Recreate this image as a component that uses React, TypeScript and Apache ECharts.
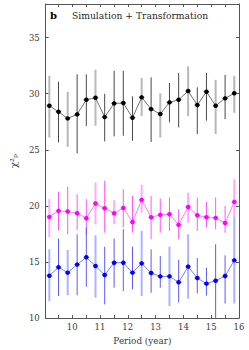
import React, { useEffect, useRef } from "react";
import * as echarts from "echarts";

const periods = [9.18, 9.51, 9.84, 10.18, 10.51, 10.84, 11.17, 11.51, 11.84, 12.17, 12.5, 12.84, 13.17, 13.5, 13.83, 14.17, 14.5, 14.83, 15.16, 15.5, 15.83];
const xTickLabels = [10, 11, 12, 13, 14, 15, 16];
const xTicks = [9.5, 10, 10.5, 11, 11.5, 12, 12.5, 13, 13.5, 14, 14.5, 15, 15.5, 16];

// Black series
const blackVal = [28.93, 28.39, 27.8, 28.16, 29.46, 29.64, 27.92, 29.14, 29.17, 27.86, 29.68, 28.63, 28.19, 29.23, 29.46, 30.24, 28.99, 30.18, 28.93, 29.59, 30.04];
const blackLow = [26.1, 25.66, 25.27, 24.68, 27.14, 27.14, 25.75, 26.2, 26.25, 25.8, 28.0, 25.7, 26.1, 27.45, 27.0, 28.0, 26.4, 27.6, 26.4, 27.73, 28.3];
const blackHigh = [31.6, 31.07, 30.18, 31.73, 31.73, 32.14, 30.0, 32.05, 32.05, 29.77, 31.4, 31.46, 30.04, 30.96, 31.85, 32.45, 30.57, 31.85, 31.24, 31.67, 31.6];
const blackThick = [1, 0, 1, 0, 0, 1, 0, 0, 0, 0, 1, 0, 1, 0, 0, 1, 0, 0, 1, 0, 1];

// Magenta series
const magVal = [19.02, 19.56, 19.5, 19.35, 18.9, 20.21, 19.79, 19.35, 19.82, 18.57, 20.54, 18.99, 19.2, 19.26, 18.31, 19.91, 19.17, 18.99, 18.93, 18.48, 20.36];
const magLow = [17.2, 17.83, 17.47, 17.86, 17.38, 18.37, 17.62, 18.37, 18.07, 17.62, 19.41, 17.03, 17.62, 17.77, 17.03, 18.52, 17.77, 18.07, 17.92, 17.62, 18.87];
const magHigh = [20.6, 21.25, 21.73, 21.04, 20.6, 22.09, 22.24, 20.51, 21.49, 20.9, 21.88, 20.9, 20.66, 20.75, 19.7, 21.19, 20.75, 20.36, 20.75, 20.0, 22.38];
const magThick = [1, 0, 0, 0, 0, 1, 0, 1, 0, 0, 1, 0, 0, 0, 0, 1, 0, 0, 0, 0, 1];

// Blue series
const blueVal = [13.78, 14.53, 14.05, 14.77, 15.42, 14.65, 13.84, 14.94, 14.94, 14.05, 14.88, 14.02, 13.72, 13.72, 13.19, 14.59, 13.57, 13.07, 13.33, 13.75, 15.15];
const blueLow = [11.52, 11.97, 12.03, 12.03, 12.8, 11.82, 11.22, 12.71, 12.41, 12.56, 11.97, 12.26, 12.71, 11.07, 11.4, 11.73, 12.2, 12.0, 9.5, 11.3, 11.3];
const blueHigh = [16.13, 17.09, 16.07, 17.47, 18.07, 17.38, 16.37, 17.09, 17.92, 16.37, 17.77, 16.13, 15.54, 16.37, 15.2, 17.47, 15.35, 14.5, 16.58, 15.6, 18.96];
const blueThick = [1, 0, 1, 0, 0, 1, 0, 0, 0, 0, 1, 0, 0, 1, 0, 1, 0, 0, 0, 0, 1];

const FONT = "DejaVu Serif";

function errSeries(vals: number[], lows: number[], highs: number[], flags: number[], want: number, color: string, width: number, z: number) {
  const data: number[][] = [];
  periods.forEach((p, i) => {
    if (flags[i] === want) data.push([p, lows[i], highs[i], vals[i]]);
  });
  return {
    type: "custom",
    xAxisIndex: 0,
    yAxisIndex: 0,
    clip: true,
    z,
    silent: true,
    encode: { x: 0, y: 3 },
    data,
    renderItem: (params: any, api: any) => {
      const x = api.value(0);
      const lo = api.value(1);
      const hi = api.value(2);
      const y = api.value(3);
      const a = api.coord([x, lo]);
      const b = api.coord([x, hi]);
      const h1 = api.coord([x - 0.1, y]);
      const h2 = api.coord([x + 0.1, y]);
      return {
        type: "group",
        children: [
          { type: "line", shape: { x1: a[0], y1: a[1], x2: b[0], y2: b[1] }, style: { stroke: color, lineWidth: width } },
          { type: "line", shape: { x1: h1[0], y1: h1[1], x2: h2[0], y2: h2[1] }, style: { stroke: color, lineWidth: width } },
        ],
      };
    },
  };
}

function lineSeries(vals: number[], color: string, lineColor: string) {
  return {
    type: "line",
    xAxisIndex: 0,
    yAxisIndex: 0,
    z: 5,
    data: periods.map((p, i) => [p, vals[i]]),
    symbol: "circle",
    symbolSize: 4.5,
    itemStyle: { color },
    lineStyle: { color: lineColor, width: 0.7 },
  };
}

export default function App() {
  const ref = useRef<HTMLDivElement>(null);
  useEffect(() => {
    if (!ref.current) return;
    const chart = echarts.init(ref.current, undefined, { renderer: "svg" });
    const axisLine = { show: true, lineStyle: { color: "#555", width: 1 } };
    const textColor = "#3a3a3a";
    chart.setOption({
      animation: false,
      backgroundColor: "#fff",
      grid: { left: 43, right: 10, top: 4, bottom: 31 },
      graphic: [
        { type: "text", left: 50, top: 10, style: { text: "b", fontFamily: FONT, fontWeight: "bold", fontSize: 10, fill: "#000" } },
        { type: "text", left: 72, top: 11, style: { text: "Simulation + Transformation", fontFamily: FONT, fontSize: 9.2, fill: "#2a2a2a" } },
      ],
      xAxis: [
        {
          type: "value",
          position: "bottom",
          min: 9.05,
          max: 16,
          axisLine,
          splitLine: { show: false },
          axisTick: { show: true, inside: true, length: 3, customValues: xTicks, lineStyle: { color: "#555" } },
          axisLabel: { show: true, customValues: xTickLabels, margin: 4, fontFamily: FONT, fontSize: 8.5, color: textColor },
          name: "Period (year)",
          nameLocation: "middle",
          nameGap: 15,
          nameTextStyle: { fontFamily: FONT, fontSize: 8.8, color: textColor },
        },
        {
          type: "value",
          position: "top",
          min: 9.05,
          max: 16,
          axisLine,
          splitLine: { show: false },
          axisTick: { show: true, inside: true, length: 3, customValues: xTicks, lineStyle: { color: "#555" } },
          axisLabel: { show: false },
        },
      ],
      yAxis: [
        {
          type: "value",
          position: "left",
          min: 10,
          max: 38,
          interval: 5,
          axisLine,
          splitLine: { show: false },
          axisTick: { show: true, inside: true, length: 3, lineStyle: { color: "#555" } },
          axisLabel: { show: true, margin: 6, fontFamily: FONT, fontSize: 8.5, color: textColor, showMaxLabel: false },
          name: "χ²ₚ",
          nameLocation: "middle",
          nameRotate: 90,
          nameGap: 27,
          nameTextStyle: { fontFamily: FONT, fontSize: 10, color: textColor },
        },
        {
          type: "value",
          position: "right",
          min: 10,
          max: 38,
          interval: 5,
          axisLine,
          splitLine: { show: false },
          axisTick: { show: true, inside: true, length: 3, lineStyle: { color: "#555" } },
          axisLabel: { show: false },
        },
      ],
      series: [
        errSeries(blackVal, blackLow, blackHigh, blackThick, 1, "#b8b8b8", 2, 2),
        errSeries(blackVal, blackLow, blackHigh, blackThick, 0, "#333", 0.9, 3),
        errSeries(magVal, magLow, magHigh, magThick, 1, "#ffaaff", 2, 2),
        errSeries(magVal, magLow, magHigh, magThick, 0, "#ff44ff", 0.9, 3),
        errSeries(blueVal, blueLow, blueHigh, blueThick, 1, "#adb3ff", 2, 2),
        errSeries(blueVal, blueLow, blueHigh, blueThick, 0, "#4848ff", 0.9, 3),
        lineSeries(blackVal, "#000", "#333"),
        lineSeries(magVal, "#ff00ff", "#ff44ff"),
        lineSeries(blueVal, "#0000ff", "#4848ff"),
      ],
    });
    return () => chart.dispose();
  }, []);
  return <div ref={ref} style={{ position: "fixed", left: 0, top: 0, width: 249, height: 350 }} />;
}
